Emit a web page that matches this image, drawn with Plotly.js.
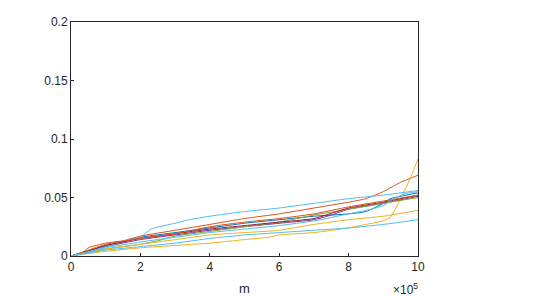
<!DOCTYPE html>
<html>
<head>
<meta charset="utf-8">
<script src="https://cdn.plot.ly/plotly-3.0.1.min.js"></script>
<style>html,body{margin:0;padding:0;background:#fff;}#chart{width:554px;height:297px;}</style>
</head>
<body>
<div id="chart"></div>
<script>
// x values in units of 1e5 (axis shows x10^5 multiplier)
const xTickVals = [0, 2, 4, 6, 8, 10];
const xTickText = ['0', '2', '4', '6', '8', '10'];
const yTickVals = [0, 0.05, 0.1, 0.15, 0.2];
const yTickText = ['0', '0.05', '0.1', '0.15', '0.2'];

const xBlue = [0, 0.5, 1, 1.5, 2, 3, 4, 5, 6, 7, 8, 8.5, 9, 9.2, 9.5, 10];
const yBlue = [0, 0.004, 0.009, 0.012, 0.016, 0.020, 0.024, 0.028, 0.031, 0.034, 0.036, 0.038, 0.045, 0.049, 0.051, 0.054];

const xOrangeTop = [0, 0.3, 0.5, 1, 1.5, 2, 3, 4, 5, 6, 7, 8, 8.5, 9, 9.5, 10];
const yOrangeTop = [0, 0.002, 0.007, 0.011, 0.013, 0.017, 0.022, 0.027, 0.032, 0.036, 0.041, 0.046, 0.049, 0.055, 0.063, 0.069];

const xYellowSteep = [0, 1, 2, 3, 4, 5, 5.7, 6, 7, 8, 8.5, 9, 9.2, 9.5, 9.8, 10];
const yYellowSteep = [0, 0.004, 0.007, 0.009, 0.011, 0.014, 0.016, 0.018, 0.020, 0.024, 0.027, 0.030, 0.033, 0.049, 0.068, 0.083];

const xPurple = [0, 1, 2, 3, 4, 5, 6, 7, 7.5, 8, 9, 10];
const yPurple = [0, 0.008, 0.014, 0.018, 0.022, 0.025, 0.028, 0.031, 0.035, 0.040, 0.045, 0.051];

const xGreen = [0, 1, 2, 2.5, 3, 4, 5, 6, 7, 8, 9, 10];
const yGreen = [0, 0.006, 0.010, 0.013, 0.017, 0.021, 0.025, 0.029, 0.035, 0.040, 0.045, 0.050];

const xLightBlueTop = [0, 1, 1.5, 2, 2.3, 3, 3.4, 4, 5, 6, 7, 8, 9, 10];
const yLightBlueTop = [0, 0.008, 0.012, 0.016, 0.023, 0.028, 0.031, 0.034, 0.038, 0.041, 0.045, 0.049, 0.052, 0.056];

const xDarkRed = [0, 1, 2, 3, 4, 5, 6, 7, 8, 9, 10];
const yDarkRed = [0, 0.009, 0.015, 0.019, 0.023, 0.026, 0.029, 0.032, 0.041, 0.046, 0.052];

const xOrange2 = [0, 0.5, 1, 2, 3, 4, 5, 6, 7, 8, 9, 10];
const yOrange2 = [0, 0.005, 0.010, 0.015, 0.019, 0.025, 0.029, 0.032, 0.036, 0.042, 0.047, 0.052];

const xYellow2 = [0, 1, 2, 3, 4, 5, 6, 7, 8, 9, 10];
const yYellow2 = [0, 0.006, 0.010, 0.014, 0.018, 0.020, 0.022, 0.027, 0.031, 0.034, 0.039];

const xLightBlueLow = [0, 1, 2, 3, 4, 5, 6, 7, 8, 9, 10];
const yLightBlueLow = [0, 0.005, 0.008, 0.011, 0.015, 0.018, 0.020, 0.022, 0.024, 0.027, 0.031];

const xLightBlueMid = [0, 1, 2, 3, 4, 5, 6, 7, 8, 8.5, 9, 9.3, 9.6, 10];
const yLightBlueMid = [0, 0.007, 0.012, 0.016, 0.020, 0.023, 0.026, 0.030, 0.036, 0.039, 0.043, 0.049, 0.053, 0.055];

const series = [
  [xBlue, yBlue, '#0072BD'],
  [xOrangeTop, yOrangeTop, '#D95319'],
  [xYellowSteep, yYellowSteep, '#EDB120'],
  [xPurple, yPurple, '#7E2F8E'],
  [xGreen, yGreen, '#77AC30'],
  [xLightBlueTop, yLightBlueTop, '#4DBEEE'],
  [xDarkRed, yDarkRed, '#A2142F'],
  [xOrange2, yOrange2, '#D95319'],
  [xYellow2, yYellow2, '#EDB120'],
  [xLightBlueLow, yLightBlueLow, '#4DBEEE'],
  [xLightBlueMid, yLightBlueMid, '#4DBEEE']
];

const traces = series.map(s => ({
  x: s[0], y: s[1], type: 'scatter', mode: 'lines',
  line: {color: s[2], width: 1, shape: 'spline', smoothing: 0.5},
  hoverinfo: 'none', showlegend: false
}));

const axisCommon = {
  showline: true, linecolor: '#262626', linewidth: 1, mirror: true,
  ticks: 'inside', ticklen: 3, tickcolor: '#262626', tickwidth: 1,
  showgrid: false, zeroline: false,
  tickfont: {family: 'Liberation Sans, Arial, sans-serif', size: 12, color: '#262626'}
};

const layout = {
  width: 554, height: 297,
  margin: {l: 71, r: 136, t: 22, b: 41, pad: 0},
  paper_bgcolor: '#ffffff', plot_bgcolor: '#ffffff',
  showlegend: false,
  xaxis: Object.assign({}, axisCommon, {
    range: [0, 10], tickmode: 'array', tickvals: xTickVals, ticktext: xTickText
  }),
  yaxis: Object.assign({}, axisCommon, {
    range: [0, 0.2], tickmode: 'array', tickvals: yTickVals, ticktext: yTickText
  }),
  annotations: [
    {text: 'm', xref: 'paper', yref: 'paper', x: 0.5, y: 0, xanchor: 'center', yanchor: 'top',
     yshift: -23, showarrow: false,
     font: {family: 'Liberation Sans, Arial, sans-serif', size: 13, color: '#262626'}},
    {text: '×10<sup>5</sup>', xref: 'paper', yref: 'paper', x: 1, y: 0, xanchor: 'right', yanchor: 'top',
     yshift: -23, xshift: 2, showarrow: false,
     font: {family: 'Liberation Sans, Arial, sans-serif', size: 12, color: '#262626'}}
  ]
};

Plotly.newPlot('chart', traces, layout, {displayModeBar: false, staticPlot: true});
</script>
</body>
</html>
